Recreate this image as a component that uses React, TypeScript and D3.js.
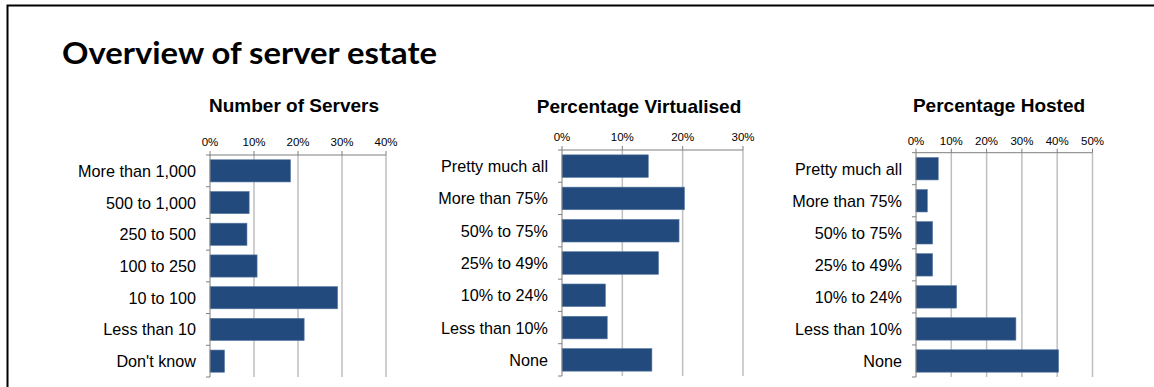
import React from "react";
import * as d3 from "d3";

const serverCategories = ["More than 1,000", "500 to 1,000", "250 to 500", "100 to 250", "10 to 100", "Less than 10", "Don't know"];
const serverValues = [18.3, 8.9, 8.4, 10.7, 29.0, 21.4, 3.3];
const serverTicks = [0, 10, 20, 30, 40];

const virtCategories = ["Pretty much all", "More than 75%", "50% to 75%", "25% to 49%", "10% to 24%", "Less than 10%", "None"];
const virtValues = [14.3, 20.3, 19.4, 16.0, 7.2, 7.5, 14.9];
const virtTicks = [0, 10, 20, 30];

const hostCategories = ["Pretty much all", "More than 75%", "50% to 75%", "25% to 49%", "10% to 24%", "Less than 10%", "None"];
const hostValues = [6.3, 3.2, 4.7, 4.7, 11.5, 28.3, 40.4];
const hostTicks = [0, 10, 20, 30, 40, 50];

const BAR = "#234A7C";
const GRID = "#BFBFBF";
const AXIS = "#7F7F7F";

type PanelProps = {
  title: string;
  titleX: number;
  titleY: number;
  categories: string[];
  values: number[];
  ticks: number[];
  x0: number;
  x1: number;
  y0: number;
  y1: number;
  tickLabelY: number;
};

function Panel(p: PanelProps) {
  const x = d3.scaleLinear().domain([0, p.ticks[p.ticks.length - 1]]).range([p.x0, p.x1]);
  const y = d3.scaleBand<string>().domain(p.categories).range([p.y0, p.y1]).paddingInner(0.3).paddingOuter(0.15);
  const step = y.step();
  const boundaries = d3.range(p.categories.length + 1).map((i) => p.y0 + i * step);
  return (
    <g>
      <text x={p.titleX} y={p.titleY} textAnchor="middle" dominantBaseline="central"
        fontFamily="'Liberation Sans', Arial, sans-serif" fontWeight="bold" fontSize={19} fill="#000">
        {p.title}
      </text>
      {p.ticks.map((t) => (
        <g key={t}>
          {t > 0 && <line x1={x(t)} x2={x(t)} y1={p.y0} y2={p.y1} stroke={GRID} strokeWidth={1.5} />}
          <line x1={x(t)} x2={x(t)} y1={p.y0 - 4} y2={p.y0} stroke={AXIS} strokeWidth={1} />
          <text x={x(t)} y={p.tickLabelY} textAnchor="middle" dominantBaseline="central"
            fontFamily="'Liberation Sans', Arial, sans-serif" fontSize={11.5} fill="#000">
            {t + "%"}
          </text>
        </g>
      ))}
      {p.categories.map((c, i) => (
        <g key={c}>
          <rect x={x(0)} y={y(c)!} width={x(p.values[i]) - x(0)} height={y.bandwidth()} fill={BAR}
            stroke="#5A7AA5" strokeWidth={0.6} />
          <text x={p.x0 - 14} y={y(c)! + y.bandwidth() / 2} textAnchor="end" dominantBaseline="central"
            fontFamily="'Liberation Sans', Arial, sans-serif" fontSize={16.2} fill="#000">
            {c}
          </text>
        </g>
      ))}
      <line x1={p.x0} x2={p.x1} y1={p.y0} y2={p.y0} stroke={AXIS} strokeWidth={1} />
      <line x1={p.x0} x2={p.x0} y1={p.y0} y2={p.y1} stroke={AXIS} strokeWidth={1} />
      {boundaries.map((b, i) => (
        <line key={i} x1={p.x0 - 4} x2={p.x0} y1={b} y2={b} stroke={AXIS} strokeWidth={1} />
      ))}
    </g>
  );
}

export default function App() {
  return (
    <svg width={1154} height={387} style={{ position: "absolute", left: 0, top: 0, background: "#fff" }}>
      <rect x={0} y={0} width={1154} height={387} fill="#fff" />
      <rect x={7.5} y={5.5} width={1160} height={400} fill="none" stroke="#000" strokeWidth={2} />
      <text x={62} y={64} fontFamily="Lato, 'Open Sans', sans-serif" fontWeight="bold" fontSize={30}
        textLength={375} lengthAdjust="spacingAndGlyphs" fill="#000">
        Overview of server estate
      </text>
      <Panel title="Number of Servers" titleX={294} titleY={105.5} categories={serverCategories} values={serverValues}
        ticks={serverTicks} x0={210} x1={386} y0={155} y1={377} tickLabelY={141.5} />
      <Panel title="Percentage Virtualised" titleX={639} titleY={106} categories={virtCategories} values={virtValues}
        ticks={virtTicks} x0={562} x1={743} y0={150} y1={376} tickLabelY={137} />
      <Panel title="Percentage Hosted" titleX={999} titleY={105} categories={hostCategories} values={hostValues}
        ticks={hostTicks} x0={916} x1={1092.5} y0={152.7} y1={377} tickLabelY={140.5} />
    </svg>
  );
}
